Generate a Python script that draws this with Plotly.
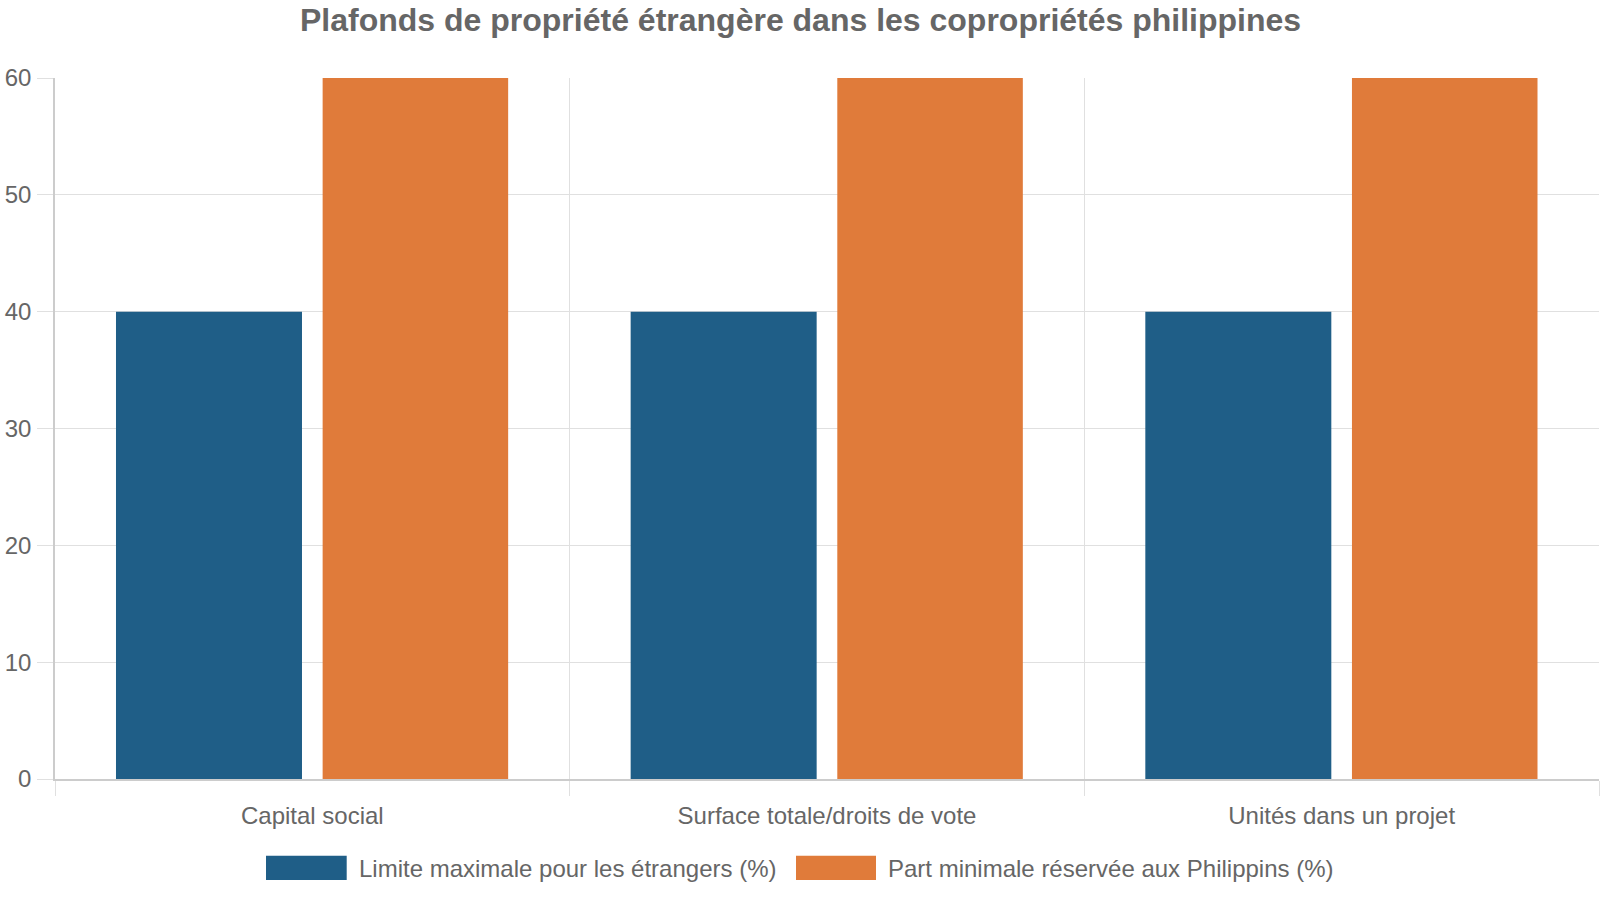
import plotly.graph_objects as go

categories = ["Capital social", "Surface totale/droits de vote", "Unités dans un projet"]
foreign_max = [40, 40, 40]
filipino_min = [60, 60, 60]
series_names = ["Limite maximale pour les étrangers (%)", "Part minimale réservée aux Philippins (%)"]
y_ticks = [0, 10, 20, 30, 40, 50, 60]
title_text = "Plafonds de propriété étrangère dans les copropriétés philippines"

BLUE = "#1F5E87"
ORANGE = "#E07B3A"
TEXT = "#666666"
FONT = "Liberation Sans, Arial, sans-serif"

W, H = 1600, 900
L, R, T, B = 55, 1, 78, 121
PW, PH = W - L - R, H - T - B


def px_x(px):
    return (px - L) / PW


def px_y(py):
    return (H - B - py) / PH


fig = go.Figure()
fig.add_trace(go.Bar(x=categories, y=foreign_max, name=series_names[0],
                     marker=dict(color=BLUE, line=dict(width=0)),
                     offset=-0.3815, width=0.3614, showlegend=False))
fig.add_trace(go.Bar(x=categories, y=filipino_min, name=series_names[1],
                     marker=dict(color=ORANGE, line=dict(width=0)),
                     offset=0.020, width=0.3605, showlegend=False))

# custom legend
shapes = []
annotations = []
legend_items = [
    (series_names[0], BLUE, 266, 346.7, 357),
    (series_names[1], ORANGE, 796, 876, 886),
]
for name, col, x0, x1, tx in legend_items:
    shapes.append(dict(type="rect", xref="paper", yref="paper",
                       x0=px_x(x0), x1=px_x(x1), y0=px_y(880), y1=px_y(855.7),
                       fillcolor=col, line=dict(width=0), layer="above"))
    annotations.append(dict(text=name, xref="paper", yref="paper",
                            x=px_x(tx), y=px_y(868), xanchor="left", yanchor="middle",
                            showarrow=False, font=dict(family=FONT, size=24, color=TEXT)))

# title
annotations.append(dict(text="<b>" + title_text + "</b>", xref="paper", yref="paper",
                        x=px_x(800), y=px_y(20), xanchor="center", yanchor="middle",
                        showarrow=False, font=dict(family=FONT, size=32, color=TEXT)))

fig.update_layout(
    width=W, height=H,
    margin=dict(l=L, r=R, t=T, b=B, pad=0),
    paper_bgcolor="white", plot_bgcolor="white",
    font=dict(family=FONT, size=24, color=TEXT),
    barmode="group",
    shapes=shapes,
    annotations=annotations,
    xaxis=dict(
        type="category", range=[-0.5, 2.5],
        showgrid=True, gridcolor="#E0E0E0", gridwidth=1,
        tickson="boundaries", ticks="outside", ticklen=15, tickcolor="#E0E0E0", tickwidth=1,
        showline=True, linecolor="#CCCCCC", linewidth=1.5,
        tickfont=dict(family=FONT, size=24, color=TEXT),
        zeroline=False,
        ticklabelstandoff=14,
    ),
    yaxis=dict(
        range=[0, 60], tickvals=y_ticks,
        showgrid=True, gridcolor="#E0E0E0", gridwidth=1,
        ticks="outside", ticklen=16, tickcolor="#E0E0E0", tickwidth=1,
        showline=True, linecolor="#CCCCCC", linewidth=1.5,
        tickfont=dict(family=FONT, size=24, color=TEXT),
        zeroline=False,
        ticklabelstandoff=1,
    ),
)

fig.write_html("out.html")
